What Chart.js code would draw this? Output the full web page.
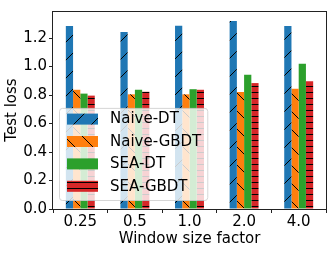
<!DOCTYPE html>
<html>
<head>
<meta charset="utf-8">
<script src="https://cdn.jsdelivr.net/npm/chart.js@4.4.1/dist/chart.umd.min.js"></script>
<style>
    html, body { margin: 0; padding: 0; background: #fff; }
    #wrap { width: 332px; height: 253px; }
</style>
</head>
<body>
<div id="wrap"><canvas id="chart"></canvas></div>
<script>
const categories = ['0.25', '0.5', '1.0', '2.0', '4.0']
const seriesNames = ['Naive-DT', 'Naive-GBDT', 'SEA-DT', 'SEA-GBDT']
const naiveDT = [1.284, 1.243, 1.286, 1.32, 1.284]
const naiveGBDT = [0.837, 0.805, 0.805, 0.821, 0.844]
const seaDT = [0.81, 0.837, 0.841, 0.943, 1.02]
const seaGBDT = [0.796, 0.823, 0.837, 0.884, 0.896]
const yTicks = [0, 0.2, 0.4, 0.6, 0.8, 1.0, 1.2]

const FONT = "'DejaVu Sans', sans-serif"

// matplotlib-like hatch fills, anchored to the canvas
const hatch = (color, kind) => {
    const size = kind === '-' ? 6 : 18
    const c = document.createElement('canvas')
    c.width = size
    c.height = size
    const g = c.getContext('2d')
    g.fillStyle = color
    g.fillRect(0, 0, size, size)
    if (kind === '-') {
        g.fillStyle = '#000'
        g.fillRect(0, 2, size, 1)
    } else if (kind) {
        g.strokeStyle = '#000'
        g.lineWidth = 1
        g.beginPath()
        for (const k of [-1, 0, 1]) {
            if (kind === '/') { g.moveTo(k * size, size); g.lineTo(k * size + size, 0) }
            else { g.moveTo(k * size, 0); g.lineTo(k * size + size, size) }
        }
        g.stroke()
    }
    return g.createPattern(c, 'repeat')
}

const colors = ['#1f77b4', '#ff7f0e', '#2ca02c', '#d62728']
const hatches = ['/', '\\', '', '-']
const values = [naiveDT, naiveGBDT, seaDT, seaGBDT]

const datasets = seriesNames.map((name, i) => ({
    label: name,
    data: values[i],
    backgroundColor: hatch(colors[i], hatches[i]),
    borderWidth: 0,
    categoryPercentage: 0.53,
    barPercentage: 1.0,
}))

const frame = {
    id: 'frame',
    afterDraw(chart) {
        const { ctx, chartArea: a } = chart
        ctx.save()
        ctx.strokeStyle = '#222'
        ctx.lineWidth = 1
        ctx.strokeRect(Math.round(a.left) - 0.5, Math.round(a.top) + 0.5, Math.round(a.right - a.left) + 1, Math.round(a.bottom - a.top))
        ctx.restore()
    }
}

const legendInside = {
    id: 'legendInside',
    afterDraw(chart) {
        const { ctx, chartArea: a } = chart
        const items = chart.data.datasets
        ctx.save()
        ctx.font = `15px ${FONT}`
        const textW = Math.max(...items.map(d => ctx.measureText(d.label).width))
        const rowH = 22.4
        const x = a.left + 6
        const h = items.length * rowH + 2.5
        const y = a.bottom - 9 - h
        const w = 8 + 31 + 12 + textW + 6
        ctx.beginPath()
        ctx.roundRect(x + 0.5, y + 0.5, w, h, 3)
        ctx.fillStyle = 'rgba(255,255,255,0.8)'
        ctx.fill()
        ctx.strokeStyle = 'rgba(204,204,204,0.8)'
        ctx.lineWidth = 1
        ctx.stroke()
        items.forEach((d, i) => {
            const cy = y + 11.2 + i * rowH
            ctx.fillStyle = d.backgroundColor
            ctx.fillRect(x + 8, cy - 5.5, 31, 11)
            ctx.fillStyle = '#000'
            ctx.textBaseline = 'middle'
            ctx.textAlign = 'left'
            ctx.fillText(d.label, x + 51, cy + 0.5)
        })
        ctx.restore()
    }
}

new Chart(document.getElementById('chart'), {
    type: 'bar',
    data: { labels: categories, datasets },
    options: {
        responsive: true,
        maintainAspectRatio: false,
        animation: false,
        layout: { padding: { top: 5, right: 6, left: 0, bottom: 0 } },
        plugins: {
            legend: { display: false },
            tooltip: { enabled: false },
        },
        scales: {
            x: {
                grid: { display: true, drawOnChartArea: false, tickLength: 4, tickColor: '#222' },
                border: { display: false },
                ticks: { color: '#000', font: { family: FONT, size: 15 }, padding: 0, maxRotation: 0 },
                title: { display: true, text: 'Window size factor', color: '#000', font: { family: FONT, size: 15 }, padding: { top: 0, bottom: 5 } },
                afterFit: (scale) => { scale.height = 44 },
            },
            y: {
                min: 0,
                max: 1.39,
                grid: { display: true, drawOnChartArea: false, tickLength: 4, tickColor: '#222' },
                border: { display: false },
                ticks: {
                    color: '#000',
                    font: { family: FONT, size: 15 },
                    padding: 2,
                    callback: (v) => v.toFixed(1),
                },
                afterBuildTicks: (scale) => {
                    scale.ticks = yTicks.map(v => ({ value: v }))
                },
                title: { display: true, text: 'Test loss', color: '#000', font: { family: FONT, size: 15 }, padding: { top: 3, bottom: 0 } },
                afterFit: (scale) => { scale.width = 53 },
            },
        },
    },
    plugins: [frame, legendInside],
})
</script>
</body>
</html>
